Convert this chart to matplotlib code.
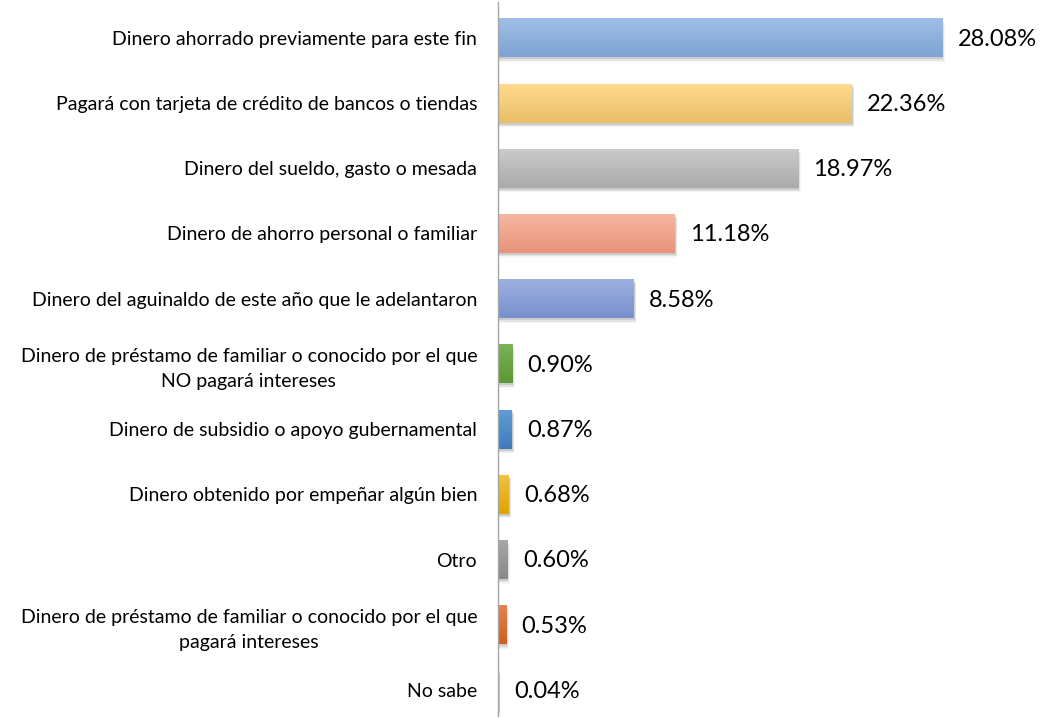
import numpy as np
import matplotlib
matplotlib.use("Agg")
import matplotlib.pyplot as plt
from matplotlib.colors import LinearSegmentedColormap
from matplotlib.patches import Rectangle

categories = [
    "Dinero ahorrado previamente para este fin",
    "Pagará con tarjeta de crédito de bancos o tiendas",
    "Dinero del sueldo, gasto o mesada",
    "Dinero de ahorro personal o familiar",
    "Dinero del aguinaldo de este año que le adelantaron",
    "Dinero de préstamo de familiar o conocido por el que\nNO pagará intereses",
    "Dinero de subsidio o apoyo gubernamental",
    "Dinero obtenido por empeñar algún bien",
    "Otro",
    "Dinero de préstamo de familiar o conocido por el que\npagará intereses",
    "No sabe",
]
values = [28.08, 22.36, 18.97, 11.18, 8.58, 0.90, 0.87, 0.68, 0.60, 0.53, 0.04]
value_labels = ["28.08%", "22.36%", "18.97%", "11.18%", "8.58%", "0.90%",
                "0.87%", "0.68%", "0.60%", "0.53%", "0.04%"]
top_colors = ["#A0C0E8", "#FFDA8E", "#CBCBCB", "#F6B6A0", "#9DB1E2", "#7AB457",
              "#5E9ED8", "#F2C242", "#A8A8A8", "#E58554", "#7C9BD6"]
bottom_colors = ["#7EA2D3", "#EBBE68", "#AAAAAA", "#E8937A", "#7A90CE", "#5A9831",
                 "#3F7BBC", "#E0A200", "#888888", "#CF5E1C", "#4472C4"]

fig = plt.figure(figsize=(10.4, 7.18), dpi=100)
ax = fig.add_axes([498 / 1040, 2 / 718, 538 / 1040, 714 / 718])
ax.set_xlim(0, 34)
ax.set_ylim(10.4, -0.55)

y = np.arange(len(categories))
h = 0.6
bars = ax.barh(y, values, height=h, color="none", edgecolor="none", zorder=3)

grad = np.linspace(0, 1, 64).reshape(-1, 1)
for i, (b, v) in enumerate(zip(bars, values)):
    # soft shadow
    for k, a in enumerate([0.10, 0.07, 0.04]):
        off_x = 0.06 + 0.05 * k
        off_y = 0.03 + 0.02 * k
        sh = Rectangle((0, y[i] - h / 2 + off_y), v + off_x, h, facecolor="#000000",
                       alpha=a, edgecolor="none", zorder=2)
        ax.add_patch(sh)
    cmap = LinearSegmentedColormap.from_list(f"g{i}", [top_colors[i], bottom_colors[i]])
    im = ax.imshow(grad, cmap=cmap, aspect="auto", interpolation="bicubic",
                   extent=[0, v, y[i] + h / 2, y[i] - h / 2], zorder=3)
    im.set_clip_path(b)
    ax.annotate(value_labels[i], xy=(v, y[i]), xytext=(11, -1), textcoords="offset points",
                ha="left", va="center", fontsize=17, family="Lato", color="#000000")

ax.set_xlim(0, 34)
ax.set_ylim(10.4, -0.55)
ax.set_yticks(y)
ax.set_yticklabels(categories, fontsize=14, family="Lato", multialignment="center",
                   linespacing=1.55)
ax.tick_params(axis="y", length=0, pad=15)
ax.set_xticks([])
for s in ["top", "right", "bottom"]:
    ax.spines[s].set_visible(False)
ax.spines["left"].set_color("#A6A6A6")
ax.spines["left"].set_linewidth(1.0)
ax.spines["left"].set_zorder(5)

fig.savefig("out.png", dpi=100)
